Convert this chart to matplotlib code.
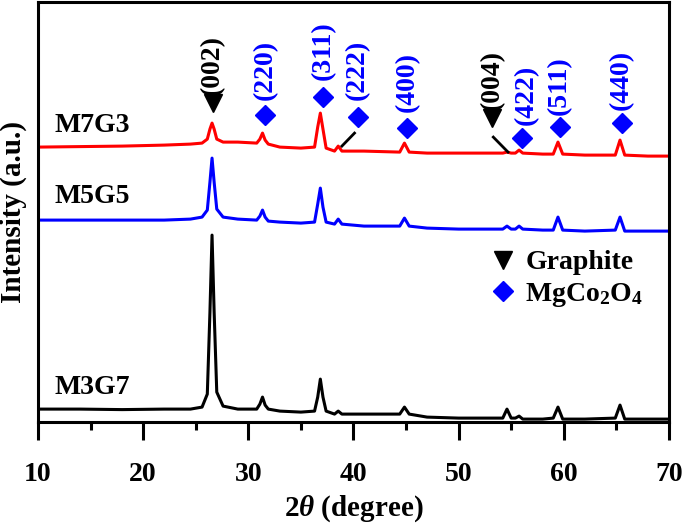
import matplotlib
matplotlib.use("Agg")
import matplotlib.pyplot as plt
from matplotlib.lines import Line2D

plt.rcParams['font.family'] = ['Liberation Serif', 'DejaVu Serif']
plt.rcParams['font.weight'] = 'bold'
plt.rcParams['mathtext.fontset'] = 'custom'
plt.rcParams['mathtext.rm'] = 'Liberation Serif:bold'
plt.rcParams['mathtext.it'] = 'Liberation Serif:italic:bold'
plt.rcParams['mathtext.bf'] = 'Liberation Serif:bold'

# 2theta grid shared by the three patterns
two_theta = [10, 14, 18, 22, 24.5, 25.6, 26.1, 26.35, 26.55, 26.75, 27.0, 27.6,
             29, 30.8, 31.1, 31.35, 31.6, 31.9, 33, 35, 36.3, 36.6, 36.85, 37.1,
             37.4, 38.2, 38.55, 38.9, 41, 44.4, 44.85, 45.3, 47, 50, 54.2, 54.6,
             55.0, 55.4, 55.75, 56.1, 58, 59.0, 59.45, 59.9, 62, 64.9, 65.35,
             65.8, 68, 70]

# intensities (offset, arbitrary units)
m3g7 = [13, 13, 12.5, 13, 13, 15, 28, 110, 187, 110, 30, 16,
        13, 13, 18, 25, 17, 13, 11, 10, 11, 25, 43, 25,
        11, 8, 11, 8, 8, 8, 15, 8, 5, 4, 4, 13,
        4, 4, 6, 3, 3, 4, 15, 3, 3, 4, 17,
        3, 3, 3]
m5g5 = [202, 202, 202, 202, 203, 205, 212, 240, 264, 240, 213, 205,
        203, 202, 206, 212, 205, 201, 200, 199, 200, 218, 234, 215,
        200, 198, 203, 198, 196, 196, 204, 196, 194, 193, 193, 196,
        193, 193, 196, 193, 192, 192, 205, 192, 191, 192, 205,
        191, 191, 191]
m7g3 = [275, 275.5, 276, 277, 278, 279, 283, 293, 299, 293, 283, 280,
        280, 279, 283, 289, 282, 278, 275, 274, 275, 295, 309, 293,
        274, 271, 276, 271, 271, 270, 279, 270, 269, 269, 269, 270,
        269, 269, 272, 269, 268, 268, 280, 268, 267, 267, 282,
        267, 266, 266]

sample_names = ['M3G7', 'M5G5', 'M7G3']
sample_colors = ['black', 'blue', 'red']
name_y = [35, 226, 297]

# peak labels: hkl, phase, marker position, label bottom
hkl = ['(002)', '(220)', '(311)', '(222)', '(400)', '(004)', '(422)', '(511)', '(440)']
hkl_phase = ['G', 'M', 'M', 'M', 'M', 'G', 'M', 'M', 'M']
hkl_x = [26.6, 31.6, 37.1, 40.4, 45.1, 53.2, 56.0, 59.6, 65.5]
hkl_marker_y = [319, 307, 325, 305, 294, 304, 284, 295, 299]
hkl_text_x = [26.6, 31.6, 37.1, 40.4, 45.1, 53.2, 56.4, 59.6, 65.5]
hkl_text_y = [327, 322, 342, 322, 310, 312, 297, 307, 312]

# leader lines for (222) and (004)
leader_x = [[38.9, 40.1], [53.3, 54.7]]
leader_y = [[276, 289], [285, 270]]

fig = plt.figure(figsize=(6.85, 5.25), dpi=100)
ax = fig.add_axes([0.0555, 0.196, 0.921, 0.8])

for ys, c in zip([m3g7, m5g5, m7g3], sample_colors):
    ax.plot(two_theta, ys, color=c, lw=2.2)

for name, y in zip(sample_names, name_y):
    ax.text(11.6, y, name, fontsize=20, fontweight='bold', va='center', ha='left')

for lab, ph, x, my, tx, ty in zip(hkl, hkl_phase, hkl_x, hkl_marker_y, hkl_text_x, hkl_text_y):
    if ph == 'G':
        ax.plot(x, my, marker='v', color='black', markersize=13, ls='none')
        col = 'black'
    else:
        ax.plot(x, my, marker='D', color='blue', markersize=10.5, ls='none')
        col = 'blue'
    ax.text(tx, ty, lab, rotation=90, color=col, fontsize=20, fontweight='bold',
            ha='center', va='bottom')

for lx, ly in zip(leader_x, leader_y):
    ax.plot(lx, ly, color='black', lw=2)

handles = [Line2D([], [], marker='v', color='black', ls='none', markersize=13),
           Line2D([], [], marker='D', color='blue', ls='none', markersize=10.5)]
ax.legend(handles, ['Graphite', 'MgCo$_2$O$_4$'], loc='upper left',
          bbox_to_anchor=(0.715, 0.41), frameon=False, fontsize=20,
          handlelength=1.0, handletextpad=0.3, labelspacing=0.2,
          borderpad=0, borderaxespad=0)

ax.set_xlim(10, 70)
ax.set_ylim(0, 420)
ax.set_yticks([])
ax.set_xticks([10, 20, 30, 40, 50, 60, 70])
ax.set_xticks([15, 25, 35, 45, 55, 65], minor=True)
ax.tick_params(axis='x', which='major', direction='out', length=13, width=2.2,
               labelsize=20, pad=16)
ax.tick_params(axis='x', which='minor', direction='out', length=6, width=2.2)
for lbl in ax.get_xticklabels():
    lbl.set_fontweight('bold')
for sp in ax.spines.values():
    sp.set_linewidth(2.2)

ax.set_xlabel(r'2$\theta$ (degree)', fontsize=21, fontweight='bold', labelpad=4)
ax.set_ylabel('Intensity (a.u.)', fontsize=21, fontweight='bold', labelpad=8)

fig.savefig('out.png', dpi=100)
